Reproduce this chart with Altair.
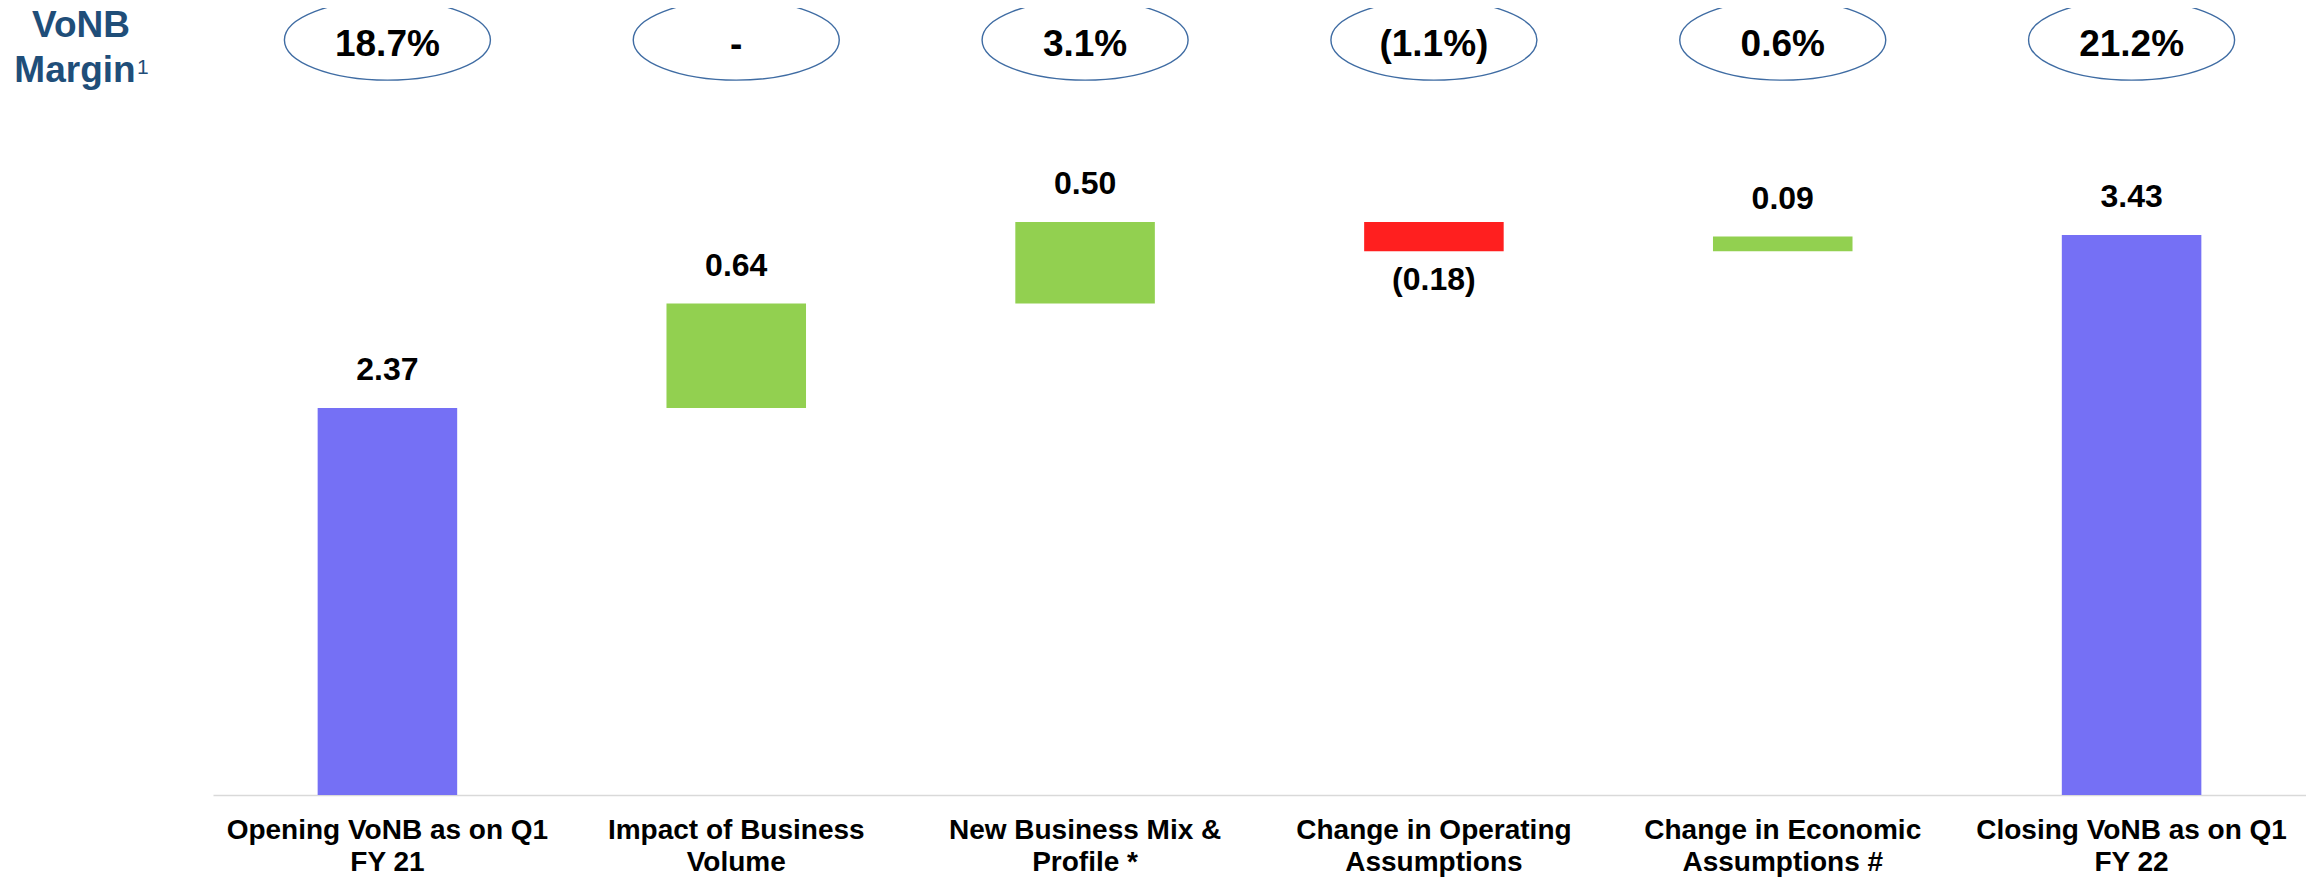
import altair as alt
import pandas as pd

# ---- data ----
categories = [
    "Opening VoNB as on Q1|FY 21",
    "Impact of Business|Volume",
    "New Business Mix &|Profile *",
    "Change in Operating|Assumptions",
    "Change in Economic|Assumptions #",
    "Closing VoNB as on Q1|FY 22",
]
changes = [2.37, 0.64, 0.50, -0.18, 0.09, 3.43]
kinds = ["total", "increase", "increase", "decrease", "increase", "total"]
value_labels = ["2.37", "0.64", "0.50", "(0.18)", "0.09", "3.43"]
margin_labels = ["18.7%", "-", "3.1%", "(1.1%)", "0.6%", "21.2%"]
title_lines = ["VoNB", "Margin"]
title_note = ["1"]

# ---- build waterfall table ----
starts, ends = [], []
run = 0.0
for v, k in zip(changes, kinds):
    if k == "total":
        s, e = 0.0, v
        run = v
    else:
        s, e = run, run + v
        run = run + v
    starts.append(s)
    ends.append(e)

df = pd.DataFrame({
    "cat": categories,
    "start": starts,
    "end": ends,
    "top": [max(a, b) for a, b in zip(starts, ends)],
    "bottom": [min(a, b) for a, b in zip(starts, ends)],
    "kind": kinds,
    "label": value_labels,
    "neg": [v < 0 for v in changes],
    "margin": margin_labels,
})

FONT = "Liberation Sans"
W, H = 2093, 787
YMAX = 4.82

xscale = alt.Scale(domain=categories, paddingInner=0.6, paddingOuter=0.3)
yscale = alt.Scale(domain=[0, YMAX], nice=False, zero=True)
x_enc = alt.X("cat:N", sort=categories, scale=xscale,
              axis=alt.Axis(title=None, labelExpr="split(datum.label, '|')"))

base = alt.Chart(df)

bars = base.mark_bar().encode(
    x=x_enc,
    y=alt.Y("start:Q", scale=yscale, axis=None),
    y2="end:Q",
    color=alt.Color("kind:N",
                    scale=alt.Scale(domain=["total", "increase", "decrease"],
                                    range=["#7570F5", "#92D050", "#FF1F1F"]),
                    legend=None),
)

pos_labels = base.transform_filter("!datum.neg").mark_text(
    font=FONT, fontSize=32, fontWeight="bold", color="black",
    baseline="alphabetic", dy=-28,
).encode(x=alt.X("cat:N", sort=categories), y=alt.Y("top:Q", scale=yscale), text="label:N")

neg_labels = base.transform_filter("datum.neg").mark_text(
    font=FONT, fontSize=32, fontWeight="bold", color="black",
    baseline="alphabetic", dy=39,
).encode(x=alt.X("cat:N", sort=categories), y=alt.Y("bottom:Q", scale=yscale), text="label:N")

k = 0.5523
ry = 0.39
ellipse_path = (
    f"M -1 0 C -1 {-ry*k:.4f} {-k} {-ry} 0 {-ry} "
    f"C {k} {-ry} 1 {-ry*k:.4f} 1 0 "
    f"C 1 {ry*k:.4f} {k} {ry} 0 {ry} "
    f"C {-k} {ry} -1 {ry*k:.4f} -1 0 Z"
)

ellipses = base.mark_point(
    shape=ellipse_path, size=206 * 206, filled=False,
    stroke="#3F6CA3", strokeWidth=1.4, opacity=1,
).encode(x=alt.X("cat:N", sort=categories), y=alt.value(32))

margin_text = base.mark_text(
    font=FONT, fontSize=37, fontWeight="bold", color="black",
    baseline="alphabetic",
).encode(x=alt.X("cat:N", sort=categories), y=alt.value(48), text="margin:N")

title1 = alt.Chart(pd.DataFrame({"t": [title_lines[0]]})).mark_text(
    font=FONT, fontSize=37, fontWeight="bold", color="#1F4E79",
    baseline="alphabetic", align="center",
).encode(x=alt.value(-132), y=alt.value(29), text="t:N")

title2 = alt.Chart(pd.DataFrame({"t": [title_lines[1]]})).mark_text(
    font=FONT, fontSize=37, fontWeight="bold", color="#1F4E79",
    baseline="alphabetic", align="center",
).encode(x=alt.value(-138), y=alt.value(74), text="t:N")

note = alt.Chart(pd.DataFrame({"t": title_note})).mark_text(
    font=FONT, fontSize=21, fontWeight="normal", color="#1F4E79",
    baseline="alphabetic", align="left",
).encode(x=alt.value(-76), y=alt.value(66), text="t:N")

chart = alt.layer(
    bars, pos_labels, neg_labels, ellipses, margin_text, title1, title2, note
).properties(
    width=W, height=H,
    autosize=alt.AutoSizeParams(type="none"),
    padding={"left": 205, "top": 0, "right": 0, "bottom": 84},
).configure_view(stroke=None).configure_axisX(
    domainColor="#D9D9D9", domainWidth=1.5, ticks=False, tickSize=0, grid=False,
    labelAngle=0, labelFont=FONT, labelFontSize=28, labelFontWeight="bold",
    labelColor="black", labelPadding=43, labelBaseline="alphabetic",
    labelLineHeight=32, labelLimit=500,
)

chart.save("out.html", embed_options={"renderer": "svg", "actions": False})
